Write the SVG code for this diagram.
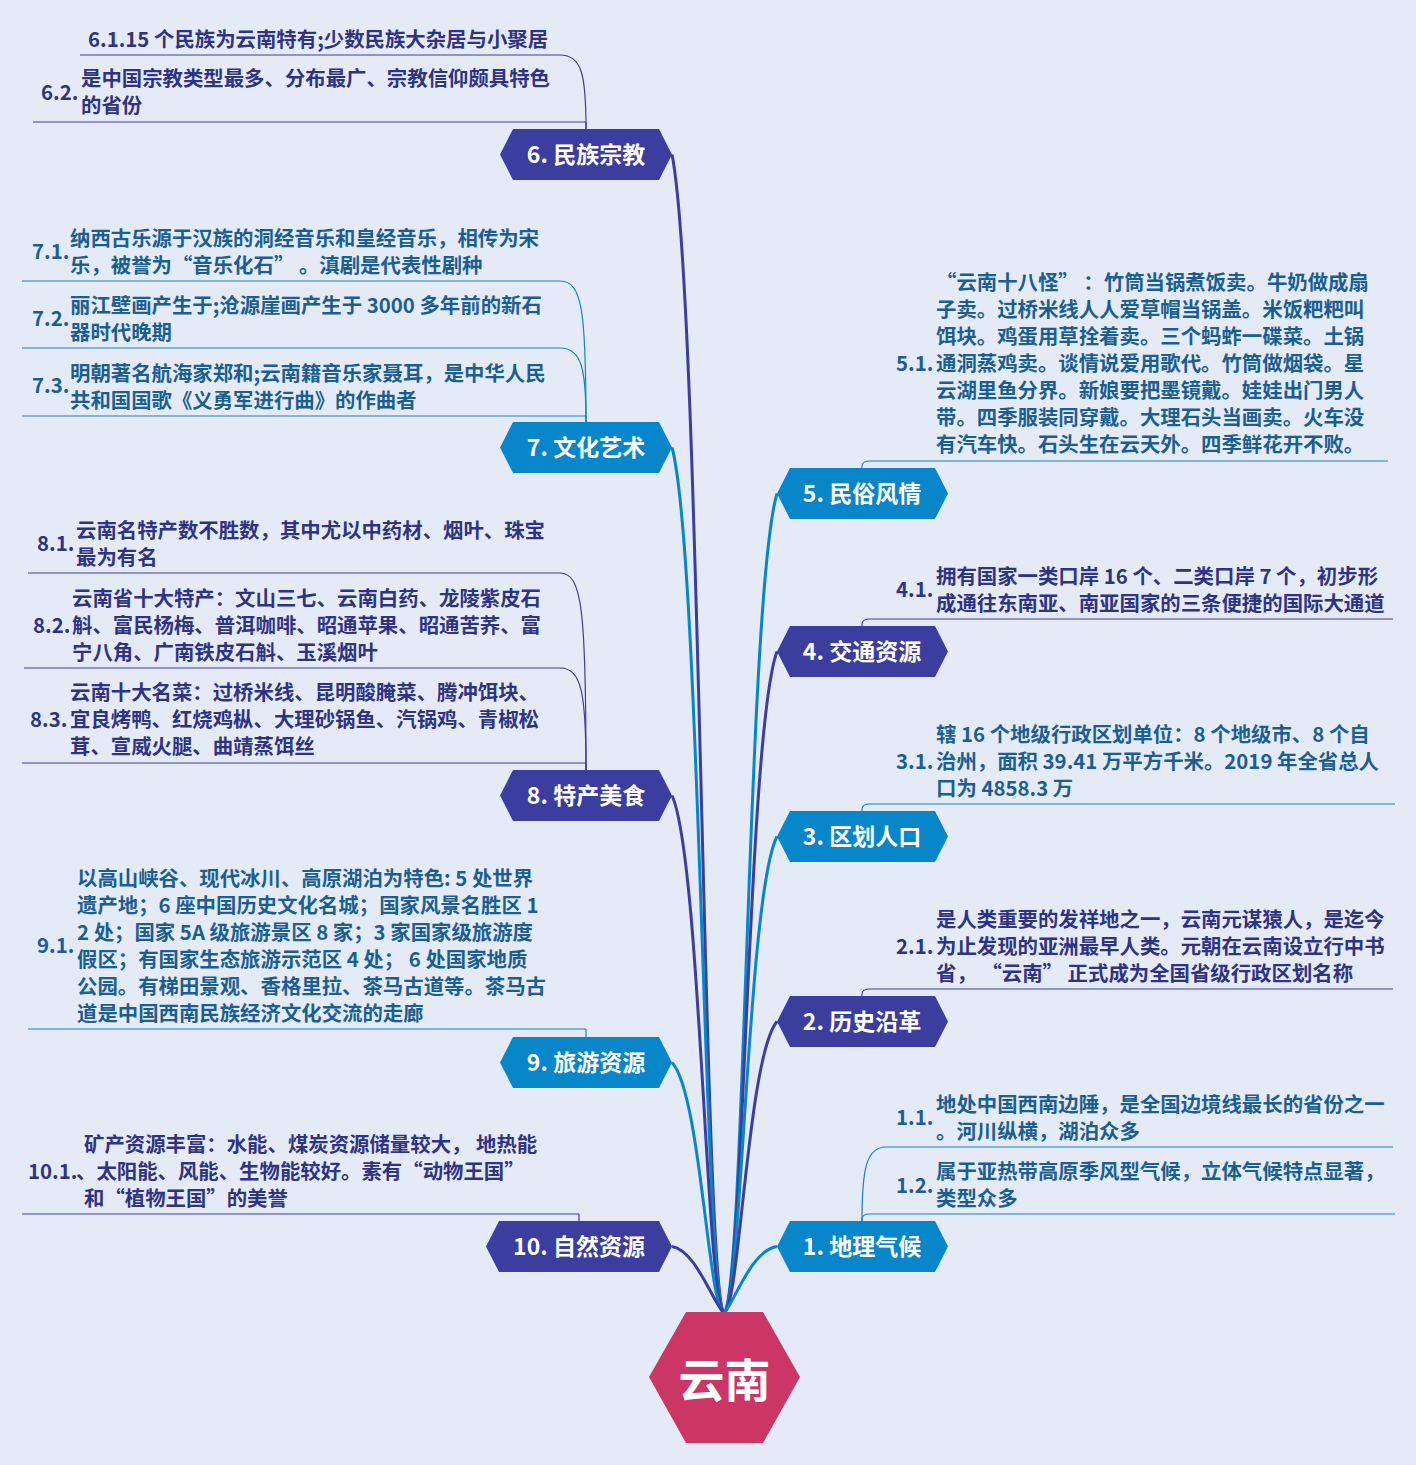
<svg xmlns="http://www.w3.org/2000/svg" width="1416" height="1465" viewBox="0 0 1416 1465">
<style>
.bg{fill:#E4EBF6}
.nd{fill:#3B3E9E}
.nb{fill:#0886CA}
.nt{font-family:"Noto Sans CJK SC","Noto Sans",sans-serif;font-size:23px;font-weight:700;fill:#FFFFFF;text-anchor:middle}
.ct{font-family:"Noto Sans CJK SC","Noto Sans",sans-serif;font-size:46px;font-weight:700;fill:#FFFFFF;text-anchor:middle}
.td{font-family:"Noto Sans CJK SC","Noto Sans",sans-serif;font-size:20.4px;font-weight:600;fill:#2F3384}
.tb{font-family:"Noto Sans CJK SC","Noto Sans",sans-serif;font-size:20.4px;font-weight:600;fill:#1B5E92}
.ud{stroke:#3B3E9E;stroke-width:1.2;fill:none}
.ub{stroke:#1782C4;stroke-width:1.2;fill:none}
.md{stroke:#3B3E9E;stroke-width:3;fill:none}
.mb{stroke:#0886CA;stroke-width:3;fill:none}
</style>
<rect class="bg" x="0" y="0" width="1416" height="1465"/>

<g id="connectors">
  <path class="md" d="M672,154.5 C700,294 703,1254 723,1312"/>
  <path class="mb" d="M672,447.5 C700,551 704,1269 723,1312"/>
  <path class="md" d="M672,795.5 C700,857 706,1286 723,1312"/>
  <path class="mb" d="M672,1062.5 C700,1092 708,1300 723,1312"/>
  <path class="md" d="M672,1246.5 C695,1250 712,1300 723,1312"/>
  <path class="mb" d="M777,493.5 C748,591 745,1271 725,1312"/>
  <path class="md" d="M777,651.5 C748,730 744,1279 725,1312"/>
  <path class="mb" d="M777,836.5 C748,893 742,1288 725,1312"/>
  <path class="md" d="M777,1021.5 C748,1056 740,1298 725,1312"/>
  <path class="mb" d="M777,1246.5 C752,1250 735,1300 725,1312"/>
  <path class="ud" d="M586,129 L586,122"/>
  <path class="ud" d="M586,129 C586,75 582,55 560,55"/>
  <path class="ub" d="M586,422 L586,416"/>
  <path class="ub" d="M586,422 C586,370 582,348 560,348"/>
  <path class="ub" d="M586,422 C586,310 582,281 560,281"/>
  <path class="ud" d="M586,770 L586,763"/>
  <path class="ud" d="M586,770 C586,695 582,668 560,668"/>
  <path class="ud" d="M586,770 C586,610 582,573 560,573"/>
  <path class="ub" d="M586,1037 L586,1029"/>
  <path class="ud" d="M579,1221 L579,1214"/>
  <path class="ub" d="M862,468 L862,466 C862,462 865,461 870,461"/>
  <path class="ud" d="M862,626 L862,624 C862,620 865,619 870,619"/>
  <path class="ub" d="M862,811 L862,809 C862,805 865,804 870,804"/>
  <path class="ud" d="M862,996 L862,994 C862,990 865,989 870,989"/>
  <path class="ub" d="M862,1221 L862,1219 C862,1215 865,1214 870,1214"/>
  <path class="ub" d="M862,1221 C862,1170 866,1147 886,1147"/>
</g>

<g id="root">
  <polygon fill="#CC3667" points="649,1377 686,1312 763,1312 800,1377 763,1443 686,1443"/>
  <text class="ct" x="724.5" y="1397">云南</text>
</g>

<g id="n6">
  <polygon class="nd" points="500,154.5 513,129 659,129 672,154.5 659,180 513,180"/>
  <text class="nt" x="586" y="163">6. 民族宗教</text>
</g>
<g id="n6-1">
  <line class="ud" x1="80" y1="55" x2="560" y2="55"/>
  <text class="td" x="88" y="46.5">6.1.15 个民族为云南特有;少数民族大杂居与小聚居</text>
</g>
<g id="n6-2">
  <line class="ud" x1="33" y1="122" x2="586" y2="122"/>
  <text class="td" x="41" y="99.5">6.2.</text>
  <text class="td" x="81" y="85.5">是中国宗教类型最多、分布最广、宗教信仰颇具特色</text>
  <text class="td" x="81" y="112.5">的省份</text>
</g>

<g id="n7">
  <polygon class="nb" points="500,447.5 513,422 659,422 672,447.5 659,473 513,473"/>
  <text class="nt" x="586" y="456">7. 文化艺术</text>
</g>
<g id="n7-1">
  <line class="ub" x1="22" y1="281" x2="560" y2="281"/>
  <text class="tb" x="32" y="258.5">7.1.</text>
  <text class="tb" x="70" y="245.5">纳西古乐源于汉族的洞经音乐和皇经音乐，相传为宋</text>
  <text class="tb" x="70" y="272.5">乐，被誉为“音乐化石” 。滇剧是代表性剧种</text>
</g>
<g id="n7-2">
  <line class="ub" x1="22" y1="348" x2="560" y2="348"/>
  <text class="tb" x="32" y="325.5">7.2.</text>
  <text class="tb" x="70" y="312.5">丽江壁画产生于;沧源崖画产生于 3000 多年前的新石</text>
  <text class="tb" x="70" y="339.5">器时代晚期</text>
</g>
<g id="n7-3">
  <line class="ub" x1="22" y1="416" x2="586" y2="416"/>
  <text class="tb" x="32" y="392.5">7.3.</text>
  <text class="tb" x="70" y="380.5">明朝著名航海家郑和;云南籍音乐家聂耳，是中华人民</text>
  <text class="tb" x="70" y="407.5">共和国国歌《义勇军进行曲》的作曲者</text>
</g>

<g id="n8">
  <polygon class="nd" points="500,795.5 513,770 659,770 672,795.5 659,821 513,821"/>
  <text class="nt" x="586" y="804">8. 特产美食</text>
</g>
<g id="n8-1">
  <line class="ud" x1="28" y1="573" x2="560" y2="573"/>
  <text class="td" x="37" y="550.5">8.1.</text>
  <text class="td" x="76" y="537.5">云南名特产数不胜数，其中尤以中药材、烟叶、珠宝</text>
  <text class="td" x="76" y="564.5">最为有名</text>
</g>
<g id="n8-2">
  <line class="ud" x1="24" y1="668" x2="560" y2="668"/>
  <text class="td" x="33" y="632.5">8.2.</text>
  <text class="td" x="72" y="605.5">云南省十大特产：文山三七、云南白药、龙陵紫皮石</text>
  <text class="td" x="72" y="632.5">斛、富民杨梅、普洱咖啡、昭通苹果、昭通苦荞、富</text>
  <text class="td" x="72" y="659.5">宁八角、广南铁皮石斛、玉溪烟叶</text>
</g>
<g id="n8-3">
  <line class="ud" x1="22" y1="763" x2="586" y2="763"/>
  <text class="td" x="30" y="726.5">8.3.</text>
  <text class="td" x="70" y="699.5">云南十大名菜：过桥米线、昆明酸腌菜、腾冲饵块、</text>
  <text class="td" x="70" y="726.5">宜良烤鸭、红烧鸡枞、大理砂锅鱼、汽锅鸡、青椒松</text>
  <text class="td" x="70" y="753.5">茸、宣威火腿、曲靖蒸饵丝</text>
</g>

<g id="n9">
  <polygon class="nb" points="500,1062.5 513,1037 659,1037 672,1062.5 659,1088 513,1088"/>
  <text class="nt" x="586" y="1071">9. 旅游资源</text>
</g>
<g id="n9-1">
  <line class="ub" x1="28" y1="1029" x2="586" y2="1029"/>
  <text class="tb" x="37" y="952.5">9.1.</text>
  <text class="tb" x="77" y="885.5">以高山峡谷、现代冰川、高原湖泊为特色: 5 处世界</text>
  <text class="tb" x="77" y="912.5">遗产地；6 座中国历史文化名城；国家风景名胜区 1</text>
  <text class="tb" x="77" y="939.5">2 处；国家 5A 级旅游景区 8 家；3 家国家级旅游度</text>
  <text class="tb" x="77" y="966.5">假区；有国家生态旅游示范区 4 处； 6 处国家地质</text>
  <text class="tb" x="77" y="993.5">公园。有梯田景观、香格里拉、茶马古道等。茶马古</text>
  <text class="tb" x="77" y="1020.5">道是中国西南民族经济文化交流的走廊</text>
</g>

<g id="n10">
  <polygon class="nd" points="486,1246.5 499,1221 659,1221 672,1246.5 659,1272 499,1272"/>
  <text class="nt" x="579" y="1255">10. 自然资源</text>
</g>
<g id="n10-1">
  <line class="ud" x1="22" y1="1214" x2="579" y2="1214"/>
  <text class="td" x="28" y="1178.5">10.1.</text>
  <text class="td" x="84" y="1151.5">矿产资源丰富：水能、煤炭资源储量较大， 地热能</text>
  <text class="td" x="76" y="1178.5">、太阳能、风能、生物能较好。素有“动物王国”</text>
  <text class="td" x="84" y="1205.5">和“植物王国”的美誉</text>
</g>

<g id="n5">
  <polygon class="nb" points="777,493.5 790,468 935,468 948,493.5 935,519 790,519"/>
  <text class="nt" x="862" y="502">5. 民俗风情</text>
</g>
<g id="n5-1">
  <line class="ub" x1="870" y1="461" x2="1388" y2="461"/>
  <text class="tb" x="896" y="370.5">5.1.</text>
  <text class="tb" x="936" y="289.5">“云南十八怪” ：竹筒当锅煮饭卖。牛奶做成扇</text>
  <text class="tb" x="936" y="316.5">子卖。过桥米线人人爱草帽当锅盖。米饭粑粑叫</text>
  <text class="tb" x="936" y="343.5">饵块。鸡蛋用草拴着卖。三个蚂蚱一碟菜。土锅</text>
  <text class="tb" x="936" y="370.5">通洞蒸鸡卖。谈情说爱用歌代。竹筒做烟袋。星</text>
  <text class="tb" x="936" y="397.5">云湖里鱼分界。新娘要把墨镜戴。娃娃出门男人</text>
  <text class="tb" x="936" y="424.5">带。四季服装同穿戴。大理石头当画卖。火车没</text>
  <text class="tb" x="936" y="451.5">有汽车快。石头生在云天外。四季鲜花开不败。</text>
</g>

<g id="n4">
  <polygon class="nd" points="777,651.5 790,626 935,626 948,651.5 935,677 790,677"/>
  <text class="nt" x="862" y="660">4. 交通资源</text>
</g>
<g id="n4-1">
  <line class="ud" x1="870" y1="619" x2="1393" y2="619"/>
  <text class="td" x="896" y="596.5">4.1.</text>
  <text class="td" x="936" y="583.5">拥有国家一类口岸 16 个、二类口岸 7 个，初步形</text>
  <text class="td" x="936" y="610.5">成通往东南亚、南亚国家的三条便捷的国际大通道</text>
</g>

<g id="n3">
  <polygon class="nb" points="777,836.5 790,811 935,811 948,836.5 935,862 790,862"/>
  <text class="nt" x="862" y="845">3. 区划人口</text>
</g>
<g id="n3-1">
  <line class="ub" x1="870" y1="804" x2="1395" y2="804"/>
  <text class="tb" x="896" y="768.5">3.1.</text>
  <text class="tb" x="936" y="741.5">辖 16 个地级行政区划单位：8 个地级市、8 个自</text>
  <text class="tb" x="936" y="768.5">治州，面积 39.41 万平方千米。2019 年全省总人</text>
  <text class="tb" x="936" y="795.5">口为 4858.3 万</text>
</g>

<g id="n2">
  <polygon class="nd" points="777,1021.5 790,996 935,996 948,1021.5 935,1047 790,1047"/>
  <text class="nt" x="862" y="1030">2. 历史沿革</text>
</g>
<g id="n2-1">
  <line class="ud" x1="870" y1="989" x2="1393" y2="989"/>
  <text class="td" x="896" y="953.5">2.1.</text>
  <text class="td" x="936" y="926.5">是人类重要的发祥地之一，云南元谋猿人，是迄今</text>
  <text class="td" x="936" y="953.5">为止发现的亚洲最早人类。元朝在云南设立行中书</text>
  <text class="td" x="936" y="980.5">省， “云南” 正式成为全国省级行政区划名称</text>
</g>

<g id="n1">
  <polygon class="nb" points="777,1246.5 790,1221 935,1221 948,1246.5 935,1272 790,1272"/>
  <text class="nt" x="862" y="1255">1. 地理气候</text>
</g>
<g id="n1-1">
  <line class="ub" x1="886" y1="1147" x2="1393" y2="1147"/>
  <text class="tb" x="896" y="1124.5">1.1.</text>
  <text class="tb" x="936" y="1111.5">地处中国西南边陲，是全国边境线最长的省份之一</text>
  <text class="tb" x="936" y="1138.5">。河川纵横，湖泊众多</text>
</g>
<g id="n1-2">
  <line class="ub" x1="870" y1="1214" x2="1395" y2="1214"/>
  <text class="tb" x="896" y="1192.5">1.2.</text>
  <text class="tb" x="936" y="1178.5">属于亚热带高原季风型气候，立体气候特点显著，</text>
  <text class="tb" x="936" y="1205.5">类型众多</text>
</g>
</svg>
